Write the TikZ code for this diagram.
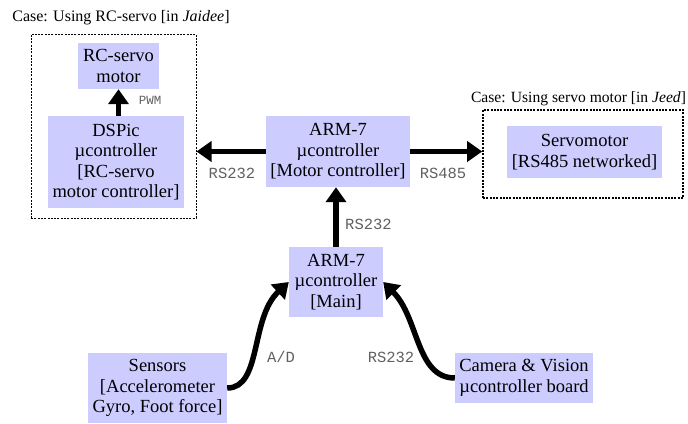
\documentclass[tikz,border=0pt]{standalone}
\usepackage{fontspec}
\setmainfont{Liberation Serif}
\setmonofont{Liberation Mono}
\usetikzlibrary{arrows.meta}
\definecolor{boxfill}{HTML}{CCCCFF}
\definecolor{lblgray}{HTML}{606060}
\begin{document}
\begin{tikzpicture}[x=1pt,y=-1pt,
  blk/.style={fill=boxfill, draw=none, align=center, inner sep=0pt,
    font=\fontsize{18.5}{20.5}\selectfont},
  casebox/.style={draw, dash pattern=on 2pt off 1.3pt, inner sep=0pt},
  casetitle/.style={font=\fontsize{16}{18}\selectfont, inner sep=0pt},
  conn/.style={line width=5.5pt, -{Triangle[length=15pt,width=20pt]}},
  lbl/.style={font=\fontsize{15.5}{17}\ttfamily, text=lblgray, inner sep=0pt}
]
\useasboundingbox (0,0) rectangle (688,423);

% case boxes
\node[casebox, line width=1pt, minimum width=165pt, minimum height=184pt] (lbox) at (113.5,126) {};
\node[casebox, line width=1.6pt, minimum width=200pt, minimum height=88pt] (rbox) at (583,154) {};
\node[casetitle] (ltitle) at (121,18) {Case: Using RC-servo [in \textit{Jaidee}]};
\node[casetitle, font=\fontsize{15.6}{18}\selectfont] (rtitle) at (578.5,99) {Case: Using servo motor [in \textit{Jeed}]};

% blocks
\node[blk, minimum width=81pt, minimum height=46pt] (rcm) at (118.5,66) {RC-servo\\motor};
\node[blk, minimum width=136pt, minimum height=92pt] (dspic) at (116,162) {DSPic\\µcontroller\\{[}RC-servo\\motor controller{]}};
\node[blk, minimum width=144pt, minimum height=71pt] (armm) at (338,151.5) {ARM-7\\µcontroller\\{[}Motor controller{]}};
\node[blk, minimum width=155pt, minimum height=52pt] (servo) at (584.5,152) {Servomotor\\{[}RS485 networked{]}};
\node[blk, minimum width=94pt, minimum height=70pt] (main) at (336,282) {ARM-7\\µcontroller\\{[}Main{]}};
\node[blk, minimum width=139pt, minimum height=70pt] (sens) at (157.5,388) {Sensors\\{[}Accelerometer\\Gyro, Foot force{]}};
\node[blk, minimum width=138pt, minimum height=50pt] (cam) at (524,378) {Camera \& Vision\\µcontroller board};

% connectors
\draw[conn] (rcm.south |- dspic.north) -- (rcm.south);
\draw[conn] (armm.west) -- (lbox.east |- armm.west);
\draw[conn] (armm.east) -- (rbox.west |- armm.east);
\draw[conn] (main.north) -- (main.north |- armm.south);
\draw[conn] (sens.east) .. controls (262,388) and (250,318) .. (main.west);
\draw[conn] (cam.west) .. controls (416,378) and (419,318) .. (main.east);

% labels
\node[lbl, font=\fontsize{12.5}{14}\ttfamily] (pwm) at (150,100) {PWM};
\node[lbl] (l1) at (232,173) {RS232};
\node[lbl] (l2) at (443,173) {RS485};
\node[lbl, anchor=west] (l3) at (345,224) {RS232};
\node[lbl] (l4) at (281,357) {A/D};
\node[lbl] (l5) at (391,357) {RS232};
\end{tikzpicture}
\end{document}
